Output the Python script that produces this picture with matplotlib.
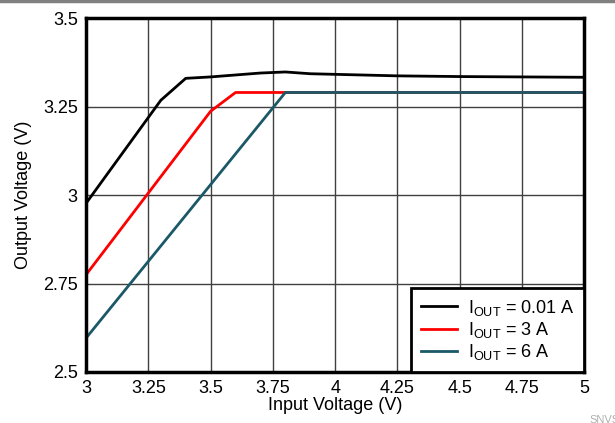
import matplotlib
matplotlib.use("Agg")
import matplotlib.pyplot as plt

plt.rcParams['font.family'] = ['Liberation Sans', 'DejaVu Sans']
plt.rcParams['mathtext.fontset'] = 'custom'
plt.rcParams['mathtext.rm'] = 'Liberation Sans'
plt.rcParams['mathtext.it'] = 'Liberation Sans'

# Data
vin_low = [3.0, 3.3, 3.4, 3.5, 3.7, 3.8, 3.9, 4.25, 4.5, 5.0]
vout_low = [2.977, 3.268, 3.330, 3.334, 3.345, 3.348, 3.343, 3.337, 3.335, 3.333]

vin_3a = [3.0, 3.5, 3.6, 5.0]
vout_3a = [2.775, 3.237, 3.29, 3.29]

vin_6a = [3.0, 3.8, 5.0]
vout_6a = [2.596, 3.29, 3.29]

labels = [r'I$_{\mathrm{OUT}}$ = 0.01 A', r'I$_{\mathrm{OUT}}$ = 3 A', r'I$_{\mathrm{OUT}}$ = 6 A']
colors = ['black', 'red', '#1b5868']

xticks = [3, 3.25, 3.5, 3.75, 4, 4.25, 4.5, 4.75, 5]
xticklabels = ['3', '3.25', '3.5', '3.75', '4', '4.25', '4.5', '4.75', '5']
yticks = [2.5, 2.75, 3, 3.25, 3.5]
yticklabels = ['2.5', '2.75', '3', '3.25', '3.5']

fig = plt.figure(figsize=(6.15, 4.23), dpi=100)
ax = fig.add_axes([0.140, 0.1206, 0.810, 0.8364])

ax.plot(vin_low, vout_low, color=colors[0], lw=2, label=labels[0])
ax.plot(vin_3a, vout_3a, color=colors[1], lw=2, label=labels[1])
ax.plot(vin_6a, vout_6a, color=colors[2], lw=2, label=labels[2])

ax.set_xlim(3, 5)
ax.set_ylim(2.5, 3.5)
ax.set_xticks(xticks)
ax.set_xticklabels(xticklabels)
ax.set_yticks(yticks)
ax.set_yticklabels(yticklabels)
ax.tick_params(length=0, labelsize=13, pad=6)
ax.grid(True, color='#404040', lw=1)
for s in ax.spines.values():
    s.set_linewidth(2.5)
    s.set_color('black')

ax.set_xlabel('Input Voltage (V)', fontsize=13, labelpad=0)
ax.set_ylabel('Output Voltage (V)', fontsize=13, labelpad=8)

leg = ax.legend(loc='lower right', fontsize=13, frameon=True, fancybox=False,
                borderaxespad=0, handlelength=2.0, labelspacing=0.12,
                borderpad=0.55, handletextpad=0.6)
leg.get_frame().set_edgecolor('black')
leg.get_frame().set_linewidth(2)
leg.get_frame().set_alpha(1)

# top border line and cropped watermark
fig.add_artist(plt.Line2D([0, 1], [0.997, 0.997], color='#808080', lw=2.5))
fig.text(0.958, -0.005, 'SNVS', fontsize=8, color='#b0b0b0', ha='left', va='bottom')

fig.savefig('out.png', dpi=100)
